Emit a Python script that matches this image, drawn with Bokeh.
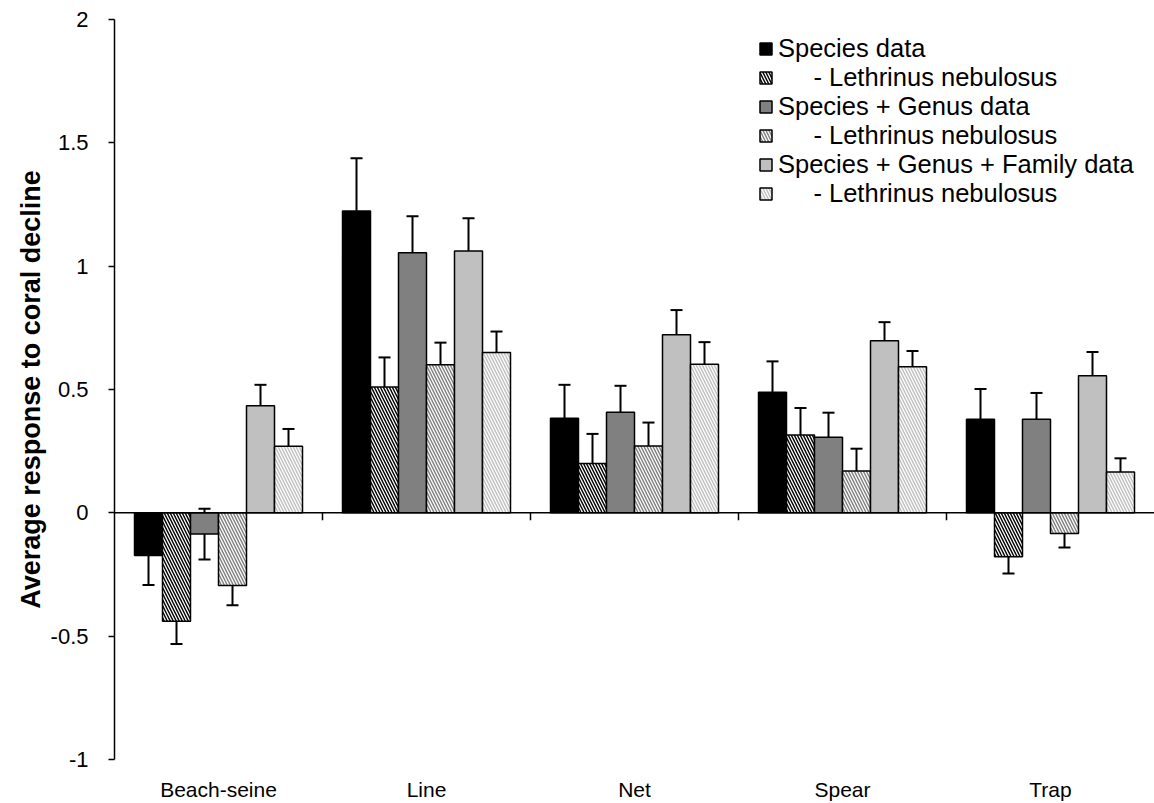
import numpy as np
from bokeh.plotting import figure
from bokeh.models import (Range1d, FixedTicker, CustomJSTickFormatter, ColumnDataSource,
                          Whisker, TeeHead, Span, Legend, LegendItem)
from bokeh.embed import file_html
from bokeh.resources import INLINE

categories = ["Beach-seine", "Line", "Net", "Spear", "Trap"]
indent = "\u00a0" * 5
series_names = ["Species data", indent + "- Lethrinus nebulosus",
                "Species + Genus data", indent + "- Lethrinus nebulosus",
                "Species + Genus + Family data", indent + "- Lethrinus nebulosus"]

species = [-0.173, 1.224, 0.383, 0.489, 0.379]
species_err = [0.12, 0.214, 0.136, 0.125, 0.123]
species_noLN = [-0.44, 0.51, 0.20, 0.316, -0.178]
species_noLN_err = [0.092, 0.12, 0.12, 0.109, 0.068]
genus = [-0.086, 1.054, 0.408, 0.306, 0.379]
genus_err = [0.103, 0.148, 0.107, 0.10, 0.107]
genus_noLN = [-0.295, 0.60, 0.271, 0.17, -0.084]
genus_noLN_err = [0.08, 0.09, 0.095, 0.09, 0.057]
family = [0.434, 1.061, 0.722, 0.698, 0.556]
family_err = [0.085, 0.133, 0.10, 0.075, 0.096]
family_noLN = [0.27, 0.65, 0.602, 0.592, 0.166]
family_noLN_err = [0.07, 0.085, 0.09, 0.064, 0.055]

y_ticks = [-1, -0.5, 0, 0.5, 1, 1.5, 2]

values = [species, species_noLN, genus, genus_noLN, family, family_noLN]
errors = [species_err, species_noLN_err, genus_err, genus_noLN_err, family_err, family_noLN_err]
fills = ["#000000", "#000000", "#808080", "#808080", "#c0c0c0", "#c0c0c0"]
hatches = [None, "\\", None, "\\", None, "\\"]

FONT = "Liberation Sans"

p = figure(width=1154, height=803, output_backend="svg", toolbar_location=None,
           x_range=Range1d(0, 5), y_range=Range1d(-1, 2),
           min_border_left=114, min_border_right=0, min_border_top=19, min_border_bottom=43)
p.outline_line_color = None
p.xgrid.visible = False
p.ygrid.visible = False
p.background_fill_color = "white"
p.border_fill_color = "white"

# y axis
ya = p.yaxis[0]
ya.ticker = FixedTicker(ticks=y_ticks)
ya.formatter = CustomJSTickFormatter(code="return String(tick);")
ya.major_tick_in = 0
ya.major_tick_out = 6
ya.minor_tick_line_color = None
ya.axis_line_width = 1.5
ya.major_tick_line_width = 1.5
ya.major_label_text_font = FONT
ya.major_label_text_font_size = "22px"
ya.major_label_text_color = "black"
ya.major_label_standoff = 20
ya.axis_label = "Average response to coral decline"
ya.axis_label_text_font = FONT
ya.axis_label_text_font_style = "bold"
ya.axis_label_text_font_size = "27px"
ya.axis_label_text_color = "black"
ya.axis_label_standoff = 2

# x axis: only category labels at the bottom
xa = p.xaxis[0]
xa.ticker = FixedTicker(ticks=[i + 0.5 for i in range(len(categories))])
xa.major_label_overrides = {i + 0.5: c for i, c in enumerate(categories)}
xa.axis_line_color = None
xa.major_tick_line_color = None
xa.major_tick_in = 0
xa.major_tick_out = 0
xa.minor_tick_line_color = None
xa.minor_tick_in = 0
xa.minor_tick_out = 0
xa.major_label_text_font = FONT
xa.major_label_text_font_size = "21px"
xa.major_label_text_color = "black"
xa.major_label_standoff = 18

# zero line and category boundary ticks
p.add_layout(Span(location=0, dimension="width", line_color="black", line_width=1.5))
bx = np.arange(1, len(categories))
p.segment(x0=bx, x1=bx, y0=np.zeros(len(bx)), y1=np.full(len(bx), -0.03),
          line_color="black", line_width=1.5)

bar_w = 28.0 / 208.0
cat_idx = np.arange(len(categories))
items = []
for j in range(6):
    x = cat_idx + 0.5 + (j - 2.5) * bar_w
    v = np.array(values[j])
    e = np.array(errors[j])
    src = ColumnDataSource(dict(x=x, top=v, upper=v + e, lower=v - e))
    kw = dict(x="x", top="top", bottom=0, width=bar_w, source=src,
              fill_color=fills[j], line_color="black", line_width=1.5)
    if hatches[j]:
        kw.update(hatch_pattern=hatches[j], hatch_color="white", hatch_scale=6,
                  hatch_weight=1.3)
    r = p.vbar(**kw)
    items.append(LegendItem(label=series_names[j], renderers=[r]))
    w = Whisker(base="x", upper="upper", lower="lower", source=src,
                line_color="black", line_width=2,
                upper_head=TeeHead(size=12, line_width=2, line_color="black"),
                lower_head=TeeHead(size=12, line_width=2, line_color="black"))
    p.add_layout(w)

legend = Legend(items=items, location=(644, 551))
legend.label_text_font = FONT
legend.label_text_font_size = "25.5px"
legend.label_text_color = "black"
legend.glyph_width = 15
legend.glyph_height = 15
legend.label_standoff = 5
legend.spacing = -5
legend.padding = 0
legend.margin = 0
legend.label_height = 20
legend.border_line_color = None
legend.background_fill_alpha = 0
p.add_layout(legend)

open("out.html", "w").write(file_html(p, INLINE))
